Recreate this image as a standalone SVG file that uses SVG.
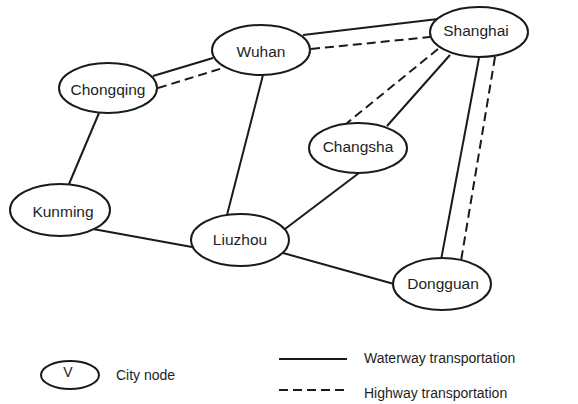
<svg xmlns="http://www.w3.org/2000/svg" width="578" height="404" viewBox="0 0 578 404">
  <style>
    .node ellipse { fill: #ffffff; stroke: #1a1a1a; stroke-width: 2; }
    .node text, .legend text { font-family: "Liberation Sans", Arial, sans-serif; fill: #1e1e1e; }
    .node text { font-size: 15.5px; text-anchor: middle; dominant-baseline: central; }
    .legend text { font-size: 14px; }
    .water { stroke: #1a1a1a; stroke-width: 2; fill: none; }
    .road { stroke: #1a1a1a; stroke-width: 2; fill: none; stroke-dasharray: 9 5; }
  </style>
  <rect width="578" height="404" fill="#ffffff"/>

  <!-- transport links -->
  <g id="connectors">
    <line class="water" x1="153" y1="76" x2="213" y2="58"/>
    <line class="road" x1="158" y1="88" x2="223" y2="68"/>
    <line class="water" x1="303" y1="35" x2="438" y2="19"/>
    <line class="road" x1="311" y1="49" x2="430" y2="37"/>
    <line class="road" x1="438" y1="49" x2="347" y2="123"/>
    <line class="water" x1="450" y1="55" x2="387" y2="126"/>
    <line class="water" x1="479" y1="58" x2="441" y2="260"/>
    <line class="road" x1="495" y1="57" x2="461" y2="261"/>
    <line class="water" x1="359" y1="173" x2="285" y2="229"/>
    <line class="water" x1="283" y1="253" x2="394" y2="284"/>
    <line class="water" x1="93" y1="229" x2="192" y2="247"/>
    <line class="water" x1="99" y1="113" x2="69" y2="184"/>
    <line class="water" x1="263" y1="75" x2="227" y2="215"/>
  </g>

  <g id="wuhan" class="node">
    <ellipse cx="261" cy="50" rx="49" ry="25"/>
    <text x="261" y="51">Wuhan</text>
  </g>
  <g id="chongqing" class="node">
    <ellipse cx="108" cy="88" rx="49" ry="25"/>
    <text x="108" y="89">Chongqing</text>
  </g>
  <g id="shanghai" class="node">
    <ellipse cx="479" cy="32" rx="49" ry="25"/>
    <text x="476" y="30">Shanghai</text>
  </g>
  <g id="changsha" class="node">
    <ellipse cx="358" cy="148" rx="49" ry="25"/>
    <text x="358" y="146">Changsha</text>
  </g>
  <g id="kunming" class="node">
    <ellipse cx="60" cy="210" rx="50" ry="26"/>
    <text x="63" y="211">Kunming</text>
  </g>
  <g id="liuzhou" class="node">
    <ellipse cx="240" cy="240" rx="49" ry="26"/>
    <text x="240" y="239">Liuzhou</text>
  </g>
  <g id="dongguan" class="node">
    <ellipse cx="442" cy="284" rx="49" ry="26"/>
    <text x="443" y="283">Dongguan</text>
  </g>

  <!-- legend -->
  <g id="legend" class="legend">
    <ellipse cx="70" cy="375" rx="29" ry="14" fill="#ffffff" stroke="#1a1a1a" stroke-width="2"/>
    <text x="68" y="377" text-anchor="middle" font-size="14">V</text>
    <text x="116" y="380">City node</text>
    <line class="water" x1="279" y1="359" x2="347" y2="359"/>
    <text x="364" y="363">Waterway transportation</text>
    <line class="road" x1="279" y1="390" x2="347" y2="390"/>
    <text x="364" y="398">Highway transportation</text>
  </g>
</svg>
